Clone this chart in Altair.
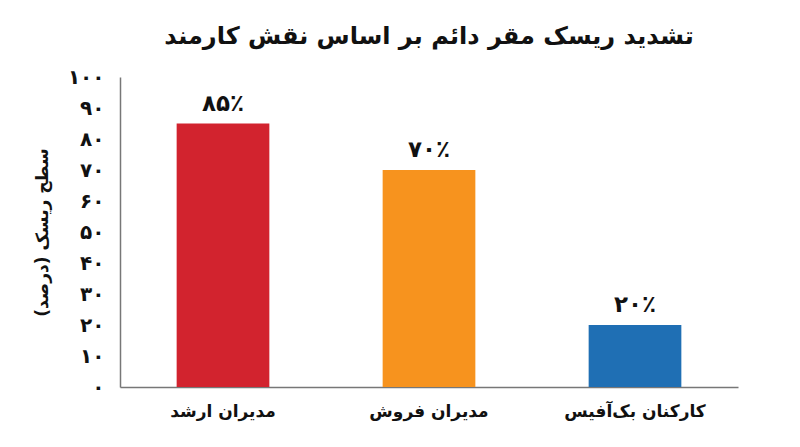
import altair as alt
import pandas as pd

categories = ["مدیران ارشد", "مدیران فروش", "کارکنان بک‌آفیس"]
values = [85, 70, 20]
value_labels = ["۸۵٪", "۷۰٪", "۲۰٪"]
colors = ["#D2232E", "#F7931E", "#1F6FB4"]
tick_values = [0, 10, 20, 30, 40, 50, 60, 70, 80, 90, 100]
tick_labels = ["۰", "۱۰", "۲۰", "۳۰", "۴۰", "۵۰", "۶۰", "۷۰", "۸۰", "۹۰", "۱۰۰"]

df = pd.DataFrame({"cat": categories, "val": values, "lab": value_labels})

FONT = "DejaVu Sans"
label_expr = "[" + ",".join("'" + t + "'" for t in tick_labels) + "][round(datum.value/10)]"

base = alt.Chart(df).encode(
    x=alt.X("cat:N", sort=categories,
            scale=alt.Scale(paddingInner=0.55, paddingOuter=0.275),
            axis=alt.Axis(title=None, labelAngle=0, labelFontSize=17, labelFontWeight="bold",
                          labelColor="#111", labelFont=FONT, ticks=False, labelPadding=16,
                          domainColor="#777", domainWidth=1.5)),
    y=alt.Y("val:Q", scale=alt.Scale(domain=[0, 100]),
            axis=alt.Axis(title="سطح ریسک (درصد)", values=tick_values, labelExpr=label_expr,
                          grid=False, ticks=False, labelFontSize=20, labelFontWeight="bold",
                          labelColor="#111", labelFont=FONT, labelPadding=16,
                          titleFontSize=17, titleFontWeight="bold", titleColor="#111",
                          titleFont=FONT, titlePadding=16, domainColor="#777", domainWidth=1.5)),
)

bars = base.mark_bar().encode(
    color=alt.Color("cat:N", sort=categories,
                    scale=alt.Scale(domain=categories, range=colors), legend=None)
)
text = base.mark_text(dy=-20, fontSize=23, fontWeight="bold", font=FONT, color="#111").encode(
    text="lab:N"
)

chart = (bars + text).properties(
    width=618, height=310,
    padding={"left": 25, "top": 17, "right": 5, "bottom": 5},
    title=alt.TitleParams("تشدید ریسک مقر دائم بر اساس نقش کارمند", fontSize=24,
                          fontWeight="bold", font=FONT, color="#111", offset=18),
    background="white",
).configure_view(stroke=None)

chart.save("out.html", embed_options={"renderer": "svg", "actions": False})
